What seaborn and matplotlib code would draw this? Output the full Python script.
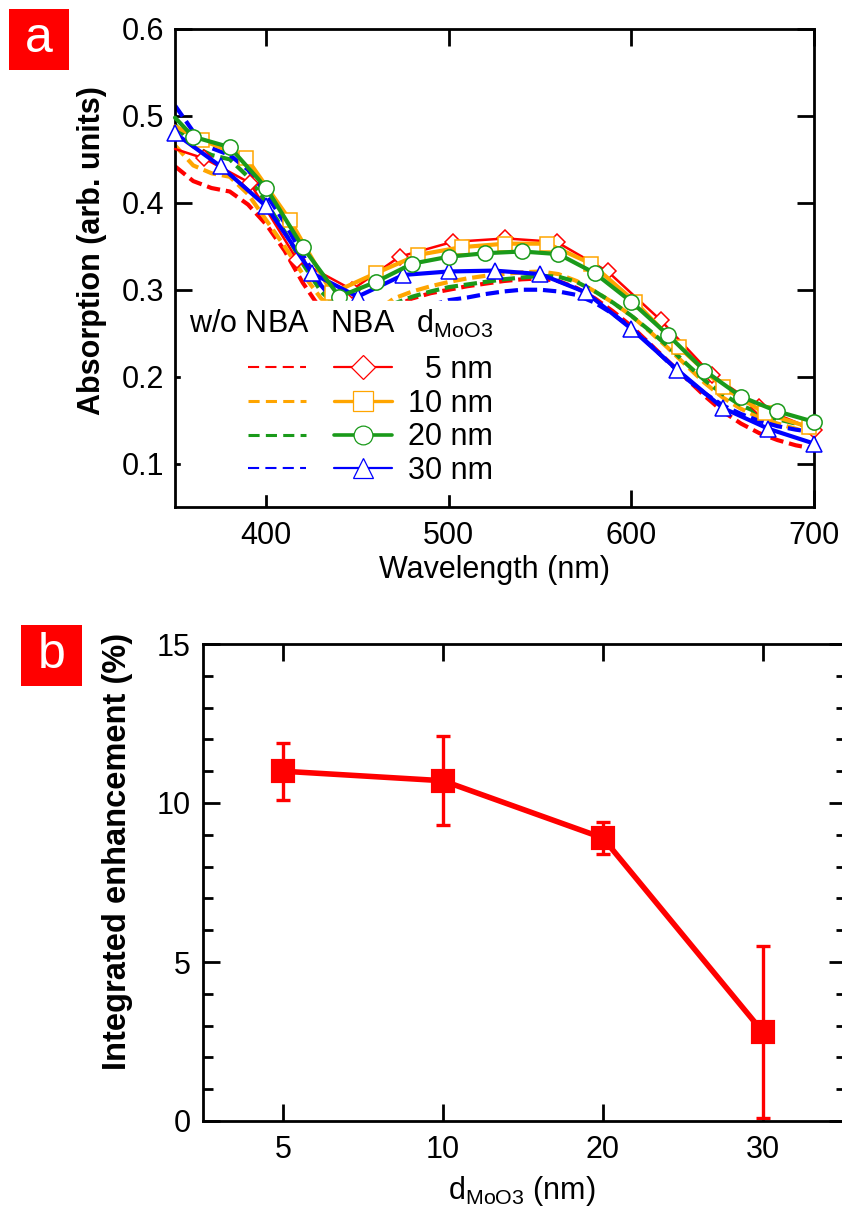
import numpy as np
import matplotlib
matplotlib.use("Agg")
import matplotlib.pyplot as plt
from matplotlib.lines import Line2D
from matplotlib.patches import Rectangle
import seaborn as sns

# ---------------- panel (a): absorption spectra ----------------
wavelength = np.arange(350, 701, 10)

# reference cells without NBA (dashed traces)
abs_ref_5 = [0.442, 0.425, 0.417, 0.413, 0.398, 0.375, 0.345, 0.308, 0.277, 0.262,
             0.260, 0.268, 0.280, 0.290, 0.296, 0.300, 0.304, 0.307, 0.310, 0.312,
             0.313, 0.310, 0.302, 0.290, 0.275, 0.258, 0.238, 0.218, 0.198, 0.178,
             0.160, 0.146, 0.135, 0.127, 0.121, 0.117]
abs_ref_10 = [0.466, 0.443, 0.434, 0.430, 0.410, 0.380, 0.350, 0.318, 0.290, 0.272,
              0.268, 0.275, 0.290, 0.298, 0.304, 0.309, 0.313, 0.316, 0.318, 0.320,
              0.321, 0.318, 0.310, 0.298, 0.285, 0.270, 0.252, 0.233, 0.213, 0.193,
              0.176, 0.163, 0.153, 0.146, 0.140, 0.134]
abs_ref_20 = [0.490, 0.465, 0.455, 0.450, 0.430, 0.400, 0.367, 0.330, 0.298, 0.278,
              0.272, 0.276, 0.284, 0.292, 0.298, 0.303, 0.306, 0.309, 0.312, 0.314,
              0.316, 0.315, 0.309, 0.298, 0.285, 0.270, 0.253, 0.235, 0.215, 0.196,
              0.180, 0.167, 0.158, 0.151, 0.146, 0.141]
abs_ref_30 = [0.512, 0.482, 0.463, 0.455, 0.438, 0.410, 0.377, 0.340, 0.305, 0.280,
              0.262, 0.260, 0.265, 0.274, 0.282, 0.288, 0.291, 0.295, 0.298, 0.300,
              0.300, 0.298, 0.294, 0.285, 0.272, 0.256, 0.237, 0.217, 0.198, 0.181,
              0.167, 0.157, 0.149, 0.143, 0.139, 0.136]

# cells with NBA (solid traces with open markers)
wl_nba_5 = [350, 366, 391, 417, 447, 473, 502, 531, 559, 587, 616, 644, 670, 700]
abs_nba_5 = [0.462, 0.451, 0.423, 0.334, 0.300, 0.338, 0.355, 0.359, 0.355, 0.321,
             0.265, 0.202, 0.165, 0.139]
wl_nba_10 = [350, 365, 389, 413, 436, 460, 483, 507, 531, 554, 578, 602, 626, 650,
             673, 697, 700]
abs_nba_10 = [0.488, 0.472, 0.452, 0.380, 0.296, 0.319, 0.340, 0.349, 0.353, 0.353,
              0.330, 0.286, 0.234, 0.188, 0.158, 0.142, 0.141]
wl_nba_20 = [350, 360, 380, 400, 420, 440, 460, 480, 500, 520, 540, 560, 580, 600,
             620, 640, 660, 680, 700]
abs_nba_20 = [0.498, 0.476, 0.464, 0.417, 0.349, 0.292, 0.309, 0.330, 0.338, 0.342,
              0.344, 0.341, 0.319, 0.286, 0.248, 0.207, 0.177, 0.160, 0.148]
wl_nba_30 = [350, 375, 400, 425, 450, 475, 500, 525, 550, 575, 600, 625, 650, 675, 700]
abs_nba_30 = [0.480, 0.442, 0.396, 0.319, 0.292, 0.317, 0.321, 0.322, 0.318, 0.297,
              0.255, 0.208, 0.164, 0.140, 0.123]

thickness_labels = ["5", "10", "20", "30"]
trace_colors = ["#ff0000", "#ffa500", "#1a9a1a", "#0000ff"]

# ---------------- panel (b): integrated enhancement ----------------
enhancement = [11.0, 10.7, 8.9, 2.8]
enhancement_err = [0.9, 1.4, 0.5, 2.7]

# ---------------- style ----------------
sns.set_theme(style="ticks")
plt.rcParams.update({
    "font.family": ["Liberation Sans", "DejaVu Sans"],
    "mathtext.default": "regular",
    "axes.linewidth": 2.0,
    "axes.edgecolor": "black",
    "text.color": "black",
    "axes.labelcolor": "black",
    "xtick.color": "black",
    "ytick.color": "black",
    "xtick.direction": "in",
    "ytick.direction": "in",
    "xtick.top": True,
    "ytick.right": True,
    "xtick.major.size": 12,
    "ytick.major.size": 12,
    "xtick.major.width": 2.0,
    "ytick.major.width": 2.0,
    "ytick.minor.size": 7,
    "ytick.minor.width": 2.0,
    "xtick.labelsize": 22,
    "ytick.labelsize": 22,
})

W, H = 842, 1207
fig = plt.figure(figsize=(W / 100, H / 100), dpi=100)


def frac(x0, y0, x1, y1):
    return [x0 / W, 1 - y1 / H, (x1 - x0) / W, (y1 - y0) / H]


ax_a = fig.add_axes(frac(175, 29, 814, 507))
ax_b = fig.add_axes(frac(203, 644, 846, 1121))

# dashed traces (without NBA)
ref_sets = [abs_ref_5, abs_ref_10, abs_ref_20, abs_ref_30]
for vals, col in zip(ref_sets, trace_colors):
    sns.lineplot(x=wavelength, y=vals, ax=ax_a, color=col, lw=3.0, zorder=2,
                 legend=False)
    ax_a.lines[-1].set_dashes((3.2, 1.4))

# solid traces with markers (with NBA)
nba_sets = [
    (wl_nba_5, abs_nba_5, "D", 8.5, 1.8, slice(1, None), 3.1),
    (wl_nba_10, abs_nba_10, "s", 10.5, 3.0, list(range(1, 16)), 3.2),
    (wl_nba_20, abs_nba_20, "o", 11.0, 3.0, slice(1, None), 3.4),
    (wl_nba_30, abs_nba_30, "^", 12.0, 3.0, slice(0, None), 3.3),
]
for (wl_s, vals, mk, ms, lw, every, z), col in zip(nba_sets, trace_colors):
    sns.lineplot(x=wl_s, y=vals, ax=ax_a, color=col, lw=lw, marker=mk, ms=ms,
                 mfc="white", mec=col, mew=1.1, markevery=every, zorder=z,
                 clip_on=False, legend=False)

ax_a.set_xlim(350, 700)
ax_a.set_ylim(0.05, 0.6)
ax_a.set_xticks([400, 500, 600, 700])
ax_a.set_yticks([0.1, 0.2, 0.3, 0.4, 0.5, 0.6])
ax_a.set_yticklabels([f"{v:.1f}" for v in [0.1, 0.2, 0.3, 0.4, 0.5, 0.6]])
ax_a.tick_params(axis="x", pad=10)
ax_a.tick_params(axis="y", pad=8)
ax_a.set_xlabel("Wavelength (nm)", fontsize=22)
ax_a.set_ylabel("Absorption (arb. units)", fontsize=22, fontweight="bold")
ax_a.xaxis.set_label_coords(0.5, -0.10)
ax_a.yaxis.set_label_coords(-0.106, 0.537)
for s in ax_a.spines.values():
    s.set_visible(True)
    s.set_linewidth(2.0)

# legend: dashed handles (w/o NBA) in one column, marker handles (NBA) in the next
leg_dashed = []
leg_solid = []
dash_lw = [1.5, 2.2, 2.2, 1.5]
solid_lw = [1.6, 2.4, 2.6, 1.6]
leg_markers = [("D", 12.5), ("s", 14.0), ("o", 13.5), ("^", 15.0)]
for col, dlw, slw, (mk, ms) in zip(trace_colors, dash_lw, solid_lw, leg_markers):
    leg_dashed.append(Line2D([], [], color=col, lw=dlw,
                             dashes=(8.0 / dlw, 4.5 / dlw)))
    leg_solid.append(Line2D([], [], color=col, lw=slw, marker=mk, ms=ms,
                            mfc="white", mec=col, mew=0.9))
labels = ["", "", "", ""] + [f"{t:>2} nm".replace(" 5", "  5") for t in thickness_labels]
leg = ax_a.legend(
    handles=leg_dashed + leg_solid, labels=labels, ncol=2,
    title="w/o NBA  \u2009NBA  \u2009d$_{MoO3}$", title_fontsize=22, fontsize=22,
    loc="upper right", bbox_to_anchor=(0.509, 0.432), alignment="right",
    frameon=True, fancybox=False, framealpha=1.0, facecolor="white",
    edgecolor="white", handlelength=1.9, handletextpad=0.5,
    columnspacing=0.42, labelspacing=0.12, borderpad=0.25, borderaxespad=0.0,
)
# extra room between the header line and the entries
leg._legend_box.sep = 0.12 * 22 + 8
leg.set_zorder(10)

# ---------------- panel (b) ----------------
sns.pointplot(x=thickness_labels, y=enhancement, ax=ax_b, color="#ff0000",
              markers="s", linestyles="-", errorbar=None, markersize=15,
              linewidth=4.0)
positions = np.arange(len(thickness_labels))
ax_b.errorbar(positions, enhancement, yerr=enhancement_err, fmt="none",
              ecolor="#ff0000", elinewidth=2.4, capsize=5, capthick=2.4,
              zorder=1, clip_on=False)
ax_b.set_xlim(-0.5, 3.52)
ax_b.set_ylim(0, 15)
ax_b.set_yticks([0, 5, 10, 15])
ax_b.set_yticks(np.arange(0, 16, 1), minor=True)
ax_b.tick_params(axis="x", pad=10)
ax_b.tick_params(axis="y", pad=9)
ax_b.tick_params(axis="y", which="minor", length=7, width=2.0)
ax_b.set_xlabel("d$_{MoO3}$ (nm)", fontsize=22)
ax_b.set_ylabel("Integrated enhancement (%)", fontsize=23.5, fontweight="bold")
ax_b.xaxis.set_label_coords(0.496, -0.112)
ax_b.yaxis.set_label_coords(-0.109, 0.566)
for s in ax_b.spines.values():
    s.set_visible(True)
    s.set_linewidth(2.0)

# panel letters
for letter, (x0, y0, x1, y1) in [("a", (9, 9, 69, 70)), ("b", (21, 625, 82, 686))]:
    fig.patches.append(Rectangle((x0 / W, 1 - y1 / H), (x1 - x0) / W, (y1 - y0) / H,
                                 transform=fig.transFigure, facecolor="#ff0000",
                                 edgecolor="none"))
    fig.text((x0 + x1) / 2 / W, 1 - (y0 + y1) / 2 / H, letter, color="white",
             fontsize=36, ha="center", va="center")

fig.savefig("out.png", dpi=100)
